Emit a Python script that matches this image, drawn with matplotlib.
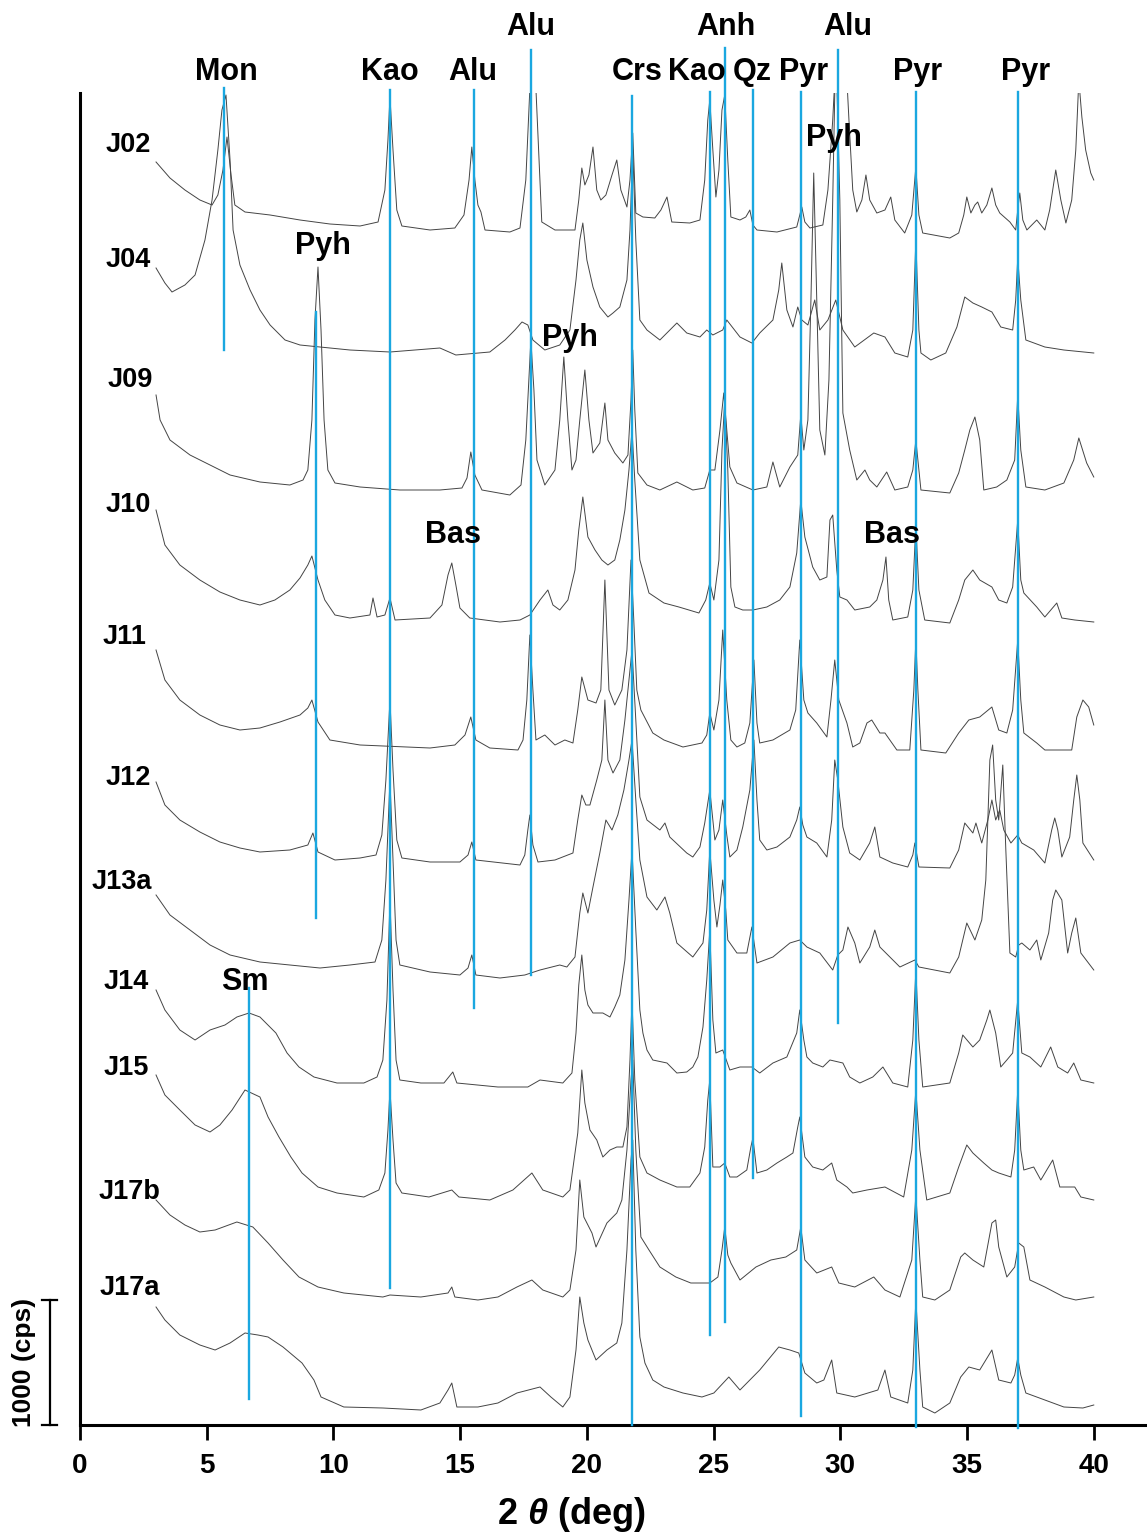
import matplotlib
matplotlib.use("Agg")
from matplotlib import pyplot as plt

plt.rcParams['font.family'] = ['Liberation Sans', 'DejaVu Sans']
plt.rcParams['font.weight'] = 'bold'
plt.rcParams['mathtext.fontset'] = 'custom'
plt.rcParams['mathtext.it'] = 'Liberation Sans:italic:bold'
plt.rcParams['mathtext.rm'] = 'Liberation Sans:bold'

# --- XRD patterns: 2theta (deg) and intensity (cps) above each pattern's baseline ---
j02_tt = [3.00, 3.55, 4.14, 4.73, 5.21, 5.44, 5.64, 5.80, 5.96, 6.11, 6.51, 7.50, 8.68, 9.86, 11.05, 11.76, 12.03, 12.15,
          12.23, 12.35, 12.50, 12.70, 13.81, 14.79, 15.15, 15.35, 15.46, 15.58, 15.70, 15.82, 15.98, 16.96, 17.36, 17.59,
          17.87, 18.22, 18.74, 19.53, 19.68, 19.80, 19.92, 20.08, 20.24, 20.39, 20.55, 20.75, 20.99, 21.18, 21.34, 21.58,
          21.70, 21.81, 21.93, 22.21, 22.68, 22.92, 23.16, 23.35, 24.06, 24.46, 24.65, 24.77, 24.85, 24.97, 25.09, 25.21,
          25.33, 25.44, 25.56, 25.68, 26.04, 26.27, 26.43, 26.55, 26.71, 27.50, 28.28, 28.40, 28.48, 28.60, 28.80, 29.31,
          29.51, 29.70, 29.90, 30.14, 30.34, 30.49, 30.65, 30.85, 31.01, 31.16, 31.44, 31.76, 31.99, 32.15, 32.54, 32.82,
          32.98, 33.10, 33.25, 34.32, 34.67, 34.87, 34.99, 35.15, 35.31, 35.42, 35.58, 35.78, 35.98, 36.13, 36.29, 36.69,
          36.92, 37.00, 37.08, 37.20, 37.36, 37.75, 38.07, 38.26, 38.50, 38.70, 38.90, 39.13, 39.29, 39.41, 39.53, 39.68,
          39.88, 40.00]
j02_cps = [624, 496, 400, 320, 280, 360, 560, 824, 520, 280, 224, 200, 160, 128, 112, 144, 400, 800,
           1144, 720, 240, 112, 80, 96, 200, 480, 744, 480, 280, 224, 80, 64, 96, 480,
           1760, 144, 80, 80, 320, 576, 440, 520, 744, 400, 320, 360, 520, 640, 400, 264,
           480, 856, 216, 184, 176, 240, 344, 144, 136, 160, 480, 960, 1120, 720, 344, 560,
           1040, 1160, 640, 184, 160, 184, 240, 120, 80, 64, 104, 200, 264, 144, 96, 120,
           400, 960, 1760, 1760, 960, 400, 224, 320, 520, 320, 216, 240, 344, 160, 56, 200,
           584, 200, 56, 16, 56, 200, 344, 216, 280, 304, 216, 280, 416, 280, 216, 144,
           80, 240, 376, 160, 80, 160, 80, 240, 560, 320, 136, 320, 720, 1280, 984, 720,
           536, 480]

j04_tt = [3.00, 3.35, 3.63, 4.14, 4.54, 4.93, 5.21, 5.44, 5.60, 5.76, 5.92, 6.04, 6.31, 6.71, 7.10, 7.50, 8.09, 8.68,
          10.65, 12.23, 14.20, 14.83, 16.17, 16.77, 17.16, 17.44, 17.67, 17.87, 18.34, 18.93, 19.33, 19.57, 19.72, 19.84,
          20.00, 20.24, 20.51, 20.83, 21.03, 21.30, 21.58, 21.70, 21.81, 21.93, 22.09, 22.37, 22.88, 23.55, 23.94, 24.46,
          24.73, 24.97, 25.36, 25.52, 26.04, 26.51, 26.82, 27.34, 27.57, 27.69, 27.89, 28.13, 28.32, 28.48, 28.72, 28.99,
          29.19, 29.51, 29.82, 30.10, 30.57, 31.32, 31.76, 32.15, 32.66, 32.86, 32.98, 33.10, 33.18, 33.57, 34.16, 34.60,
          34.91, 35.23, 35.58, 35.98, 36.33, 36.80, 36.92, 37.00, 37.12, 37.32, 38.07, 38.82, 40.00]
j04_cps = [696, 576, 504, 560, 640, 920, 1240, 1640, 1960, 2080, 1560, 1000, 720, 520, 360, 240, 120, 80,
           40, 24, 56, 0, 24, 120, 200, 264, 240, 120, 40, 80, 200, 600, 920, 1056,
           760, 544, 384, 304, 336, 384, 600, 1000, 1640, 920, 280, 200, 120, 256, 176, 144,
           200, 160, 200, 280, 144, 96, 176, 280, 520, 736, 360, 224, 384, 280, 240, 440,
           200, 280, 440, 200, 64, 176, 144, 16, -16, 200, 920, 200, 16, -40, 16, 224,
           464, 416, 384, 344, 224, 200, 440, 776, 440, 120, 64, 40, 16]

j09_tt = [3.00, 3.16, 3.55, 4.34, 5.13, 5.92, 7.10, 8.28, 8.80, 8.99, 9.15, 9.27, 9.39, 9.51, 9.63, 9.78, 10.06, 11.05,
          12.62, 14.20, 15.07, 15.27, 15.42, 15.58, 15.86, 16.96, 17.40, 17.59, 17.71, 17.79, 17.91, 18.03, 18.34, 18.74,
          18.93, 19.09, 19.25, 19.41, 19.57, 19.72, 19.92, 20.08, 20.24, 20.51, 20.71, 20.83, 21.10, 21.42, 21.62, 21.74,
          21.81, 21.89, 22.01, 22.37, 22.88, 23.55, 24.18, 24.65, 24.85, 25.05, 25.25, 25.40, 25.52, 25.64, 25.92, 26.55,
          27.10, 27.34, 27.61, 28.01, 28.32, 28.44, 28.56, 28.72, 28.84, 28.95, 29.07, 29.19, 29.39, 29.55, 29.70, 29.82,
          29.98, 30.10, 30.37, 30.65, 30.97, 31.16, 31.44, 31.83, 32.15, 32.66, 32.86, 32.98, 33.10, 33.18, 34.32, 34.67,
          34.91, 35.11, 35.31, 35.50, 35.66, 36.17, 36.57, 36.88, 37.00, 37.12, 37.32, 38.07, 38.82, 39.21, 39.41, 39.72,
          40.00]
j09_cps = [760, 560, 400, 280, 200, 120, 64, 40, 80, 160, 560, 1360, 1784, 1280, 560, 160, 56, 24,
           0, 0, 16, 96, 304, 120, 0, -40, 40, 400, 880, 1200, 800, 240, 40, 160,
           560, 1064, 560, 160, 240, 560, 960, 560, 296, 376, 696, 400, 296, 216, 280, 720,
           1120, 640, 136, 40, 0, 64, 0, 16, 160, 160, 480, 776, 480, 184, 56, 0,
           24, 224, 24, 184, 280, 600, 320, 560, 1520, 2536, 1520, 480, 280, 880, 2320, 3600,
           2320, 616, 320, 80, 160, 80, 24, 144, 0, 24, 160, 400, 160, 0, -24, 136,
           320, 480, 584, 400, 0, 24, 80, 240, 760, 320, 24, 0, 56, 240, 416, 216,
           104]

j10_tt = [3.00, 3.35, 3.94, 4.73, 5.52, 6.31, 7.10, 7.69, 8.28, 8.68, 8.99, 9.15, 9.39, 9.66, 10.06, 10.65, 11.44, 11.56,
          11.72, 12.03, 12.23, 12.43, 13.81, 14.28, 14.52, 14.67, 14.83, 14.99, 15.38, 16.57, 17.36, 17.75, 18.15, 18.46,
          18.66, 18.93, 19.25, 19.53, 19.68, 19.84, 20.04, 20.32, 20.59, 20.83, 21.10, 21.30, 21.50, 21.66, 21.78, 21.89,
          22.09, 22.45, 23.04, 23.63, 24.42, 24.69, 24.85, 25.01, 25.21, 25.33, 25.44, 25.56, 25.68, 25.84, 26.15, 26.55,
          27.10, 27.61, 28.01, 28.28, 28.44, 28.60, 28.91, 29.19, 29.47, 29.59, 29.70, 29.86, 29.98, 30.26, 30.57, 31.16,
          31.44, 31.68, 31.80, 31.91, 32.07, 32.66, 32.86, 32.98, 33.10, 33.33, 34.32, 34.67, 34.91, 35.23, 35.50, 35.98,
          36.25, 36.57, 36.80, 37.00, 37.12, 37.24, 37.75, 38.07, 38.54, 38.74, 39.25, 40.00]
j10_cps = [880, 600, 440, 320, 224, 160, 120, 160, 240, 336, 440, 512, 320, 160, 40, 16, 40, 176,
           24, 40, 176, 0, 16, 120, 360, 456, 280, 96, 16, -16, 0, 40, 160, 240,
           120, 80, 160, 400, 720, 984, 664, 560, 480, 440, 480, 640, 880, 1200, 1520, 1120,
           480, 216, 136, 104, 56, 160, 296, 160, 480, 1360, 1760, 1200, 264, 104, 80, 80,
           104, 160, 264, 536, 960, 664, 424, 320, 344, 800, 840, 400, 184, 160, 80, 104,
           160, 320, 504, 160, 0, 24, 240, 760, 240, 0, -24, 160, 320, 400, 320, 264,
           160, 136, 264, 800, 320, 216, 104, 24, 136, 16, 0, -16]

j11_tt = [3.00, 3.35, 3.94, 4.73, 5.52, 6.31, 7.10, 7.89, 8.68, 8.99, 9.15, 9.39, 9.86, 11.05, 13.81, 14.79, 15.19, 15.42,
          15.62, 16.17, 17.28, 17.48, 17.63, 17.75, 17.87, 17.99, 18.34, 18.74, 19.13, 19.45, 19.64, 19.80, 20.04, 20.36,
          20.55, 20.71, 20.87, 21.10, 21.38, 21.58, 21.74, 21.85, 21.97, 22.13, 22.60, 23.04, 23.79, 24.54, 24.73, 24.85,
          25.01, 25.21, 25.36, 25.52, 25.68, 25.92, 26.23, 26.43, 26.59, 26.71, 26.82, 27.34, 28.01, 28.24, 28.40, 28.56,
          28.72, 29.07, 29.47, 29.63, 29.78, 29.94, 30.26, 30.49, 30.77, 31.05, 31.24, 31.56, 31.76, 32.23, 32.74, 32.90,
          32.98, 33.06, 33.18, 34.16, 34.67, 35.07, 35.50, 35.98, 36.25, 36.57, 36.80, 37.00, 37.12, 37.24, 37.75, 38.07,
          39.13, 39.33, 39.57, 39.80, 40.00]
j11_cps = [800, 560, 400, 280, 200, 160, 176, 224, 280, 336, 400, 224, 80, 40, 16, 40, 120, 264,
           80, 16, 0, 80, 400, 920, 480, 80, 120, 40, 80, 56, 320, 584, 400, 376,
           480, 1360, 480, 360, 480, 800, 1520, 1040, 480, 320, 136, 80, 24, 56, 120, 296,
           160, 400, 960, 400, 80, 24, 56, 216, 720, 216, 56, 80, 160, 320, 880, 400,
           296, 216, 104, 400, 720, 400, 216, 24, 56, 216, 240, 136, 136, 0, 0, 480,
           880, 480, 0, -24, 136, 240, 264, 344, 160, 136, 320, 880, 400, 136, 56, 0,
           0, 264, 400, 344, 200]

j12_tt = [3.00, 3.35, 3.94, 4.73, 5.52, 6.31, 7.10, 8.28, 8.99, 9.19, 9.39, 10.06, 11.05, 11.68, 11.91, 12.07, 12.23, 12.35,
          12.50, 12.70, 13.81, 14.99, 15.31, 15.46, 15.62, 17.36, 17.55, 17.67, 17.75, 17.87, 18.07, 18.74, 19.45, 19.64,
          19.80, 19.96, 20.12, 20.39, 20.59, 20.71, 20.83, 21.03, 21.30, 21.50, 21.66, 21.78, 21.93, 22.09, 22.37, 22.88,
          23.08, 23.27, 23.94, 24.18, 24.46, 24.65, 24.85, 25.05, 25.21, 25.36, 25.52, 25.64, 25.92, 26.15, 26.43, 26.59,
          26.71, 26.82, 27.10, 27.50, 28.01, 28.28, 28.40, 28.52, 28.68, 29.07, 29.47, 29.66, 29.78, 29.90, 30.10, 30.37,
          30.77, 31.16, 31.36, 31.56, 32.07, 32.66, 32.86, 32.94, 33.10, 34.32, 34.67, 34.91, 35.23, 35.35, 35.58, 35.82,
          35.98, 36.13, 36.29, 36.45, 36.73, 37.00, 37.16, 37.63, 38.07, 38.34, 38.46, 38.58, 38.74, 39.05, 39.21, 39.33,
          39.45, 39.57, 40.00]
j12_cps = [624, 440, 320, 224, 144, 96, 64, 80, 120, 216, 64, 0, 16, 40, 200, 640, 1280, 720,
           160, 16, -16, -16, 40, 144, 0, -40, 40, 240, 360, 120, -16, 0, 56, 320,
           520, 440, 440, 640, 800, 1280, 800, 696, 800, 1120, 1440, 1680, 1120, 504, 320, 240,
           296, 184, 56, 24, 104, 296, 560, 160, 240, 480, 200, 24, 80, 264, 560, 960,
           480, 160, 80, 104, 184, 320, 424, 280, 184, 136, 24, 320, 800, 640, 264, 56,
           0, 136, 264, 24, -24, -56, 40, 136, -56, -64, 80, 296, 216, 296, 136, 320,
           480, 320, 400, 240, 136, 200, 136, 80, -24, 240, 336, 240, 24, 184, 480, 680,
           480, 136, 0]

j13a_tt = [3.00, 3.55, 4.34, 5.13, 5.92, 7.10, 8.28, 9.47, 10.65, 11.64, 11.91, 12.07, 12.23, 12.35, 12.47, 12.62, 13.81,
           14.99, 15.31, 15.46, 15.62, 16.57, 17.55, 18.15, 18.93, 19.21, 19.53, 19.72, 19.84, 20.04, 20.24, 20.51, 20.75,
           20.99, 21.22, 21.46, 21.66, 21.78, 21.93, 22.09, 22.37, 22.76, 23.08, 23.27, 23.55, 24.18, 24.58, 24.73, 24.85,
           25.01, 25.13, 25.25, 25.36, 25.48, 25.56, 25.92, 26.31, 26.51, 26.71, 27.34, 28.01, 28.40, 28.68, 29.19, 29.70,
           29.90, 30.10, 30.30, 30.57, 30.77, 31.16, 31.36, 31.56, 32.35, 32.94, 33.10, 34.32, 34.67, 34.99, 35.31, 35.58,
           35.74, 35.90, 36.01, 36.13, 36.25, 36.41, 36.53, 36.69, 36.92, 37.04, 37.16, 37.48, 37.75, 37.91, 38.22, 38.38,
           38.50, 38.74, 38.97, 39.13, 39.29, 39.49, 40.00]
j13a_cps = [600, 440, 320, 200, 120, 64, 40, 16, 40, 64, 240, 720, 1520, 880, 240, 40, -16,
            -40, 16, 120, -40, -64, -40, 0, 40, 24, 104, 456, 616, 456, 664, 936, 1200,
            1120, 1240, 1440, 1680, 1840, 1360, 880, 584, 480, 584, 456, 216, 104, 216, 480, 960,
            560, 344, 520, 720, 480, 240, 136, 136, 344, 56, 104, 216, 240, 184, 136, 0,
            120, 160, 344, 216, 56, 184, 320, 184, 24, 80, 24, -24, 104, 376, 240, 400,
            720, 1680, 1800, 1360, 1200, 1640, 960, 136, 104, 200, 216, 160, 240, 80, 296, 560,
            640, 560, 136, 296, 416, 136, 0]

j14_tt = [3.00, 3.35, 3.94, 4.54, 5.13, 5.72, 6.19, 6.67, 7.10, 7.73, 8.17, 8.64, 9.23, 10.14, 11.20, 11.72, 11.95, 12.11,
          12.23, 12.35, 12.47, 12.62, 13.45, 14.36, 14.71, 14.87, 16.49, 17.67, 18.15, 19.05, 19.41, 19.57, 19.68, 19.80,
          19.92, 20.04, 20.24, 20.63, 20.91, 21.10, 21.30, 21.50, 21.66, 21.78, 21.93, 22.09, 22.21, 22.37, 22.60, 23.16,
          23.55, 23.94, 24.18, 24.38, 24.58, 24.73, 24.85, 24.97, 25.09, 25.36, 25.64, 26.04, 26.51, 26.82, 27.34, 27.89,
          28.28, 28.40, 28.56, 28.68, 28.91, 29.31, 29.59, 30.10, 30.37, 30.77, 31.28, 31.68, 32.07, 32.66, 32.86, 32.98,
          33.10, 33.25, 34.32, 34.67, 34.83, 35.23, 35.50, 35.78, 35.90, 36.13, 36.33, 36.57, 36.80, 37.00, 37.16, 37.48,
          37.91, 38.30, 38.58, 38.97, 39.21, 39.49, 40.00]
j14_cps = [760, 600, 440, 360, 440, 480, 544, 576, 544, 416, 256, 144, 64, 16, 16, 64, 200, 680,
           1480, 760, 200, 40, 16, 16, 104, 16, -16, -16, 40, 16, 96, 416, 800, 1040,
           760, 640, 576, 576, 544, 624, 720, 1000, 1480, 1880, 1240, 600, 416, 280, 200, 176,
           96, 104, 144, 224, 464, 840, 1240, 520, 256, 280, 120, 144, 144, 96, 176, 224,
           416, 600, 360, 224, 176, 144, 200, 176, 64, 16, 64, 144, 16, -16, 360, 920,
           360, -16, 16, 256, 400, 304, 360, 520, 600, 416, 144, 200, 256, 680, 256, 224,
           144, 304, 144, 96, 176, 40, 16]

j15_tt = [3.00, 3.35, 3.94, 4.54, 5.13, 5.52, 6.00, 6.51, 7.10, 7.42, 7.85, 8.32, 8.76, 9.39, 10.14, 11.20, 11.79, 12.03,
          12.15, 12.23, 12.35, 12.47, 12.70, 13.77, 14.67, 14.95, 16.17, 17.08, 17.83, 18.26, 19.05, 19.33, 19.64, 19.80,
          19.92, 20.12, 20.39, 20.63, 20.91, 21.18, 21.42, 21.58, 21.70, 21.78, 21.89, 22.09, 22.37, 22.88, 23.55, 24.06,
          24.46, 24.65, 24.77, 24.85, 24.97, 25.25, 25.44, 25.64, 25.92, 26.31, 26.47, 26.55, 26.71, 27.10, 27.50, 27.89,
          28.13, 28.32, 28.40, 28.60, 28.91, 29.31, 29.66, 29.86, 30.26, 30.49, 31.05, 31.76, 32.50, 32.82, 32.98, 33.14,
          33.41, 34.32, 34.67, 34.99, 35.23, 35.66, 35.98, 36.25, 36.73, 36.88, 37.00, 37.12, 37.24, 37.63, 37.91, 38.38,
          38.66, 39.25, 39.49, 40.00]
j15_cps = [1000, 840, 720, 600, 544, 600, 720, 880, 824, 664, 504, 344, 216, 104, 56, 24, 80, 216,
           560, 880, 480, 136, 56, 24, 80, 24, 0, 80, 216, 80, 24, 80, 536, 1040,
           776, 560, 480, 344, 400, 424, 424, 584, 1120, 1600, 960, 344, 216, 160, 104, 104,
           216, 424, 800, 960, 264, 264, 296, 184, 184, 240, 424, 496, 216, 240, 296, 344,
           376, 584, 664, 344, 264, 240, 296, 160, 104, 56, 80, 104, 24, 400, 880, 400,
           0, 56, 264, 440, 376, 296, 240, 216, 184, 400, 880, 400, 240, 264, 160, 320,
           104, 104, 24, 0]

j17b_tt = [3.00, 3.55, 4.14, 4.73, 5.33, 6.19, 6.82, 7.42, 8.01, 8.64, 9.39, 10.41, 11.95, 12.23, 13.45, 14.52, 14.67, 14.79,
           15.70, 16.49, 17.24, 17.83, 18.26, 19.05, 19.33, 19.57, 19.72, 19.88, 20.20, 20.36, 20.79, 21.18, 21.38, 21.58,
           21.74, 21.81, 21.93, 22.13, 22.45, 22.88, 23.51, 24.10, 24.85, 25.17, 25.33, 25.44, 25.56, 25.68, 26.04, 26.67,
           27.26, 27.85, 28.28, 28.44, 28.60, 29.07, 29.66, 29.94, 30.57, 31.32, 31.76, 32.35, 32.82, 32.98, 33.14, 33.25,
           33.73, 34.32, 34.75, 34.91, 35.23, 35.66, 35.98, 36.13, 36.25, 36.57, 36.88, 37.04, 37.24, 37.48, 38.07, 38.82,
           39.29, 40.00]
j17b_cps = [800, 680, 600, 544, 560, 624, 584, 456, 320, 184, 104, 56, 24, 40, 24, 56, 104, 24,
            0, 24, 104, 160, 80, 24, 80, 400, 960, 664, 536, 424, 616, 696, 800, 1200,
            1760, 1920, 1200, 504, 400, 264, 184, 136, 136, 184, 400, 584, 360, 296, 160, 264,
            320, 344, 400, 584, 320, 216, 264, 136, 104, 184, 80, 24, 320, 840, 320, 24,
            0, 80, 344, 376, 320, 264, 616, 640, 424, 184, 264, 456, 424, 160, 104, 24,
            0, 24]

j17a_tt = [3.00, 3.35, 3.94, 4.73, 5.33, 5.92, 6.51, 7.02, 7.42, 8.01, 8.76, 9.23, 9.51, 10.41, 11.95, 13.45, 14.20, 14.52,
           14.67, 14.87, 15.70, 16.49, 17.24, 18.15, 18.58, 19.05, 19.33, 19.57, 19.72, 19.88, 20.04, 20.36, 20.79, 21.18,
           21.38, 21.58, 21.74, 21.81, 21.93, 22.09, 22.29, 22.60, 23.04, 23.79, 24.54, 25.01, 25.60, 26.04, 26.82, 27.57,
           28.01, 28.36, 28.60, 29.07, 29.35, 29.66, 29.86, 30.57, 31.48, 31.76, 31.99, 32.66, 32.86, 32.98, 33.14, 33.25,
           33.73, 34.32, 34.75, 35.07, 35.50, 35.98, 36.25, 36.73, 36.88, 37.00, 37.12, 37.32, 38.07, 38.82, 39.57, 40.00]
j17a_cps = [824, 720, 600, 520, 480, 536, 616, 600, 584, 504, 376, 240, 104, 24, 16, 0, 56, 160,
            216, 24, 24, 56, 136, 184, 104, 24, 104, 480, 904, 696, 560, 400, 480, 536,
            696, 1280, 2000, 2160, 1280, 584, 376, 240, 184, 136, 104, 136, 264, 160, 320, 504,
            480, 456, 296, 216, 240, 400, 136, 104, 160, 320, 104, 56, 320, 880, 320, 24,
            -24, 56, 264, 344, 320, 480, 240, 216, 280, 416, 280, 136, 80, 24, 16, 40]

sample_names = ['J02', 'J04', 'J09', 'J10', 'J11', 'J12', 'J13a', 'J14', 'J15', 'J17b', 'J17a']
sample_offsets = [9480, 8560, 7480, 6440, 5400, 4520, 3640, 2720, 1800, 1000, 120]

# reference peak positions (deg) and mineral names
mineral_names = ['Mon', 'Kao', 'Alu', 'Alu', 'Crs', 'Kao', 'Anh', 'Qz', 'Pyr', 'Alu', 'Pyr', 'Pyr', 'Pyh', 'Sm']
mineral_2theta = [5.70, 12.23, 15.56, 17.79, 21.78, 24.85, 25.46, 26.57, 28.44, 29.90, 32.98, 37.00, 9.31, 6.67]

# --- layout (vertical extent of marker lines, label anchor) ---
marker_spans = [(8600, 10696), (1096, 10680), (3336, 10680), (3600, 11000), (0, 10632), (720, 10664),
                (824, 11016), (1976, 10680), (72, 10664), (3216, 11000), (-16, 10664), (-24, 10664),
                (4056, 8904), (208, 3496)]
marker_labels = [(5.76, 10824), (12.23, 10824), (15.50, 10824), (17.79, 11184), (21.97, 10824), (24.34, 10824),
                 (25.48, 11184), (26.51, 10824), (28.56, 10824), (30.30, 11184), (33.06, 10824), (37.32, 10824),
                 (9.59, 9432), (6.51, 3544)]
extra_labels = [('Pyh', 19.33, 8696), ('Pyh', 29.74, 10296), ('Bas', 14.71, 7120), ('Bas', 32.03, 7120)]
sample_label_pos = [(1.89, 10240), (1.89, 9320), (1.97, 8360), (1.89, 7360), (1.74, 6304), (1.89, 5176),
                    (1.66, 4344), (1.81, 3544), (1.81, 2856), (1.97, 1864), (1.97, 1096)]

patterns = [(j02_tt, j02_cps), (j04_tt, j04_cps), (j09_tt, j09_cps), (j10_tt, j10_cps), (j11_tt, j11_cps),
            (j12_tt, j12_cps), (j13a_tt, j13a_cps), (j14_tt, j14_cps), (j15_tt, j15_cps),
            (j17b_tt, j17b_cps), (j17a_tt, j17a_cps)]

BLUE = '#1AA7E0'

fig = plt.figure(figsize=(11.47, 15.35), dpi=100)
ax = fig.add_axes([80 / 1147, 110 / 1535, 1067 / 1147, 1332 / 1535])

for (tt, cps), off in zip(patterns, sample_offsets):
    ax.plot(tt, [c + off for c in cps], color='#444444', lw=0.7, zorder=2)

for name, pos, (y0, y1), (lx, ly) in zip(mineral_names, mineral_2theta, marker_spans, marker_labels):
    ax.plot([pos, pos], [y0, y1], color=BLUE, lw=1.7, clip_on=False, zorder=3)
    ax.text(lx, ly, name, fontsize=22, fontweight='bold', ha='center', va='center', zorder=4)

for name, lx, ly in extra_labels:
    ax.text(lx, ly, name, fontsize=22, fontweight='bold', ha='center', va='center', zorder=4)

for name, (lx, ly) in zip(sample_names, sample_label_pos):
    ax.text(lx, ly, name, fontsize=19.5, fontweight='bold', ha='center', va='center', zorder=4)

# 1000 cps scale bar
ax.plot([-1.18, -1.18], [0, 1000], color='black', lw=1.6, clip_on=False)
ax.plot([-1.5, -0.9], [0, 0], color='black', lw=1.6, clip_on=False)
ax.plot([-1.5, -0.9], [1000, 1000], color='black', lw=1.6, clip_on=False)
ax.text(-2.2, 500, '1000 (cps)', rotation=90, fontsize=19, fontweight='bold', ha='center', va='center')

ax.set_xlim(0, 42.1)
ax.set_ylim(0, 10656)
ax.set_xticks(range(0, 41, 5))
ax.set_yticks([])
ax.tick_params(axis='x', direction='out', length=11, width=2, labelsize=20, pad=9)
for lab in ax.get_xticklabels():
    lab.set_fontweight('bold')
ax.spines['top'].set_visible(False)
ax.spines['right'].set_visible(False)
ax.spines['bottom'].set_linewidth(2.2)
ax.spines['left'].set_linewidth(2.2)

fig.text(571 / 1147, 1 - 1515 / 1535, r'2 $\theta$ (deg)', fontsize=26, fontweight='bold', ha='center', va='center')

fig.savefig('out.png', dpi=100)
